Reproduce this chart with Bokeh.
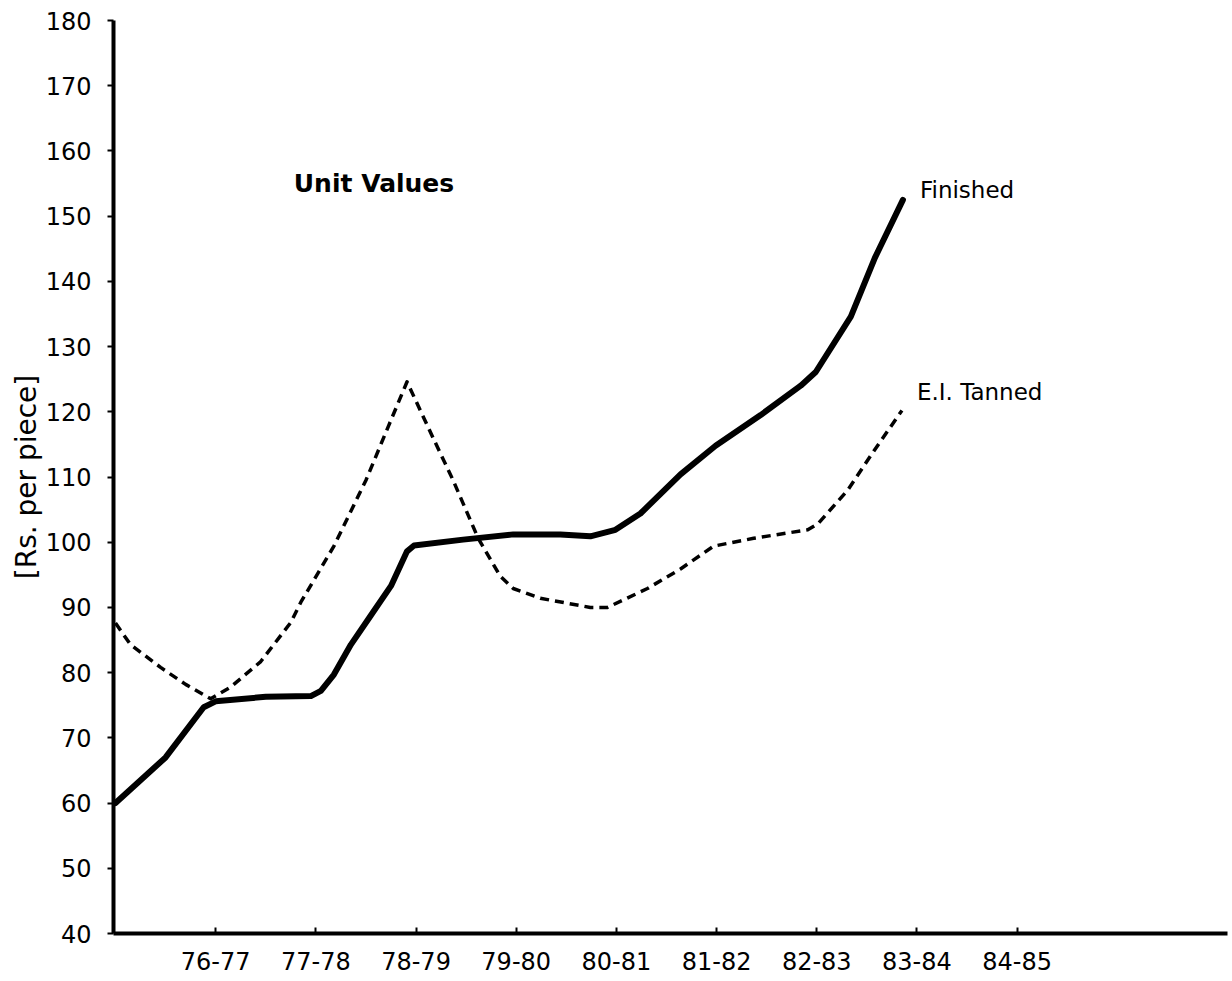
from bokeh.plotting import figure
from bokeh.models import Range1d, FixedTicker, Label
from bokeh.embed import file_html
from bokeh.resources import INLINE

# Category labels along the x axis (position 0 is the unlabeled origin, 75-76)
categories = ["76-77", "77-78", "78-79", "79-80", "80-81", "81-82", "82-83", "83-84", "84-85"]
category_pos = [1, 2, 3, 4, 5, 6, 7, 8, 9]

# Finished leather unit values (Rs. per piece)
finished_x = [0, 0.5, 0.88, 1.0, 1.5, 1.95, 2.05, 2.18, 2.35, 2.55, 2.75, 2.91, 2.98,
              3.47, 3.97, 4.44, 4.74, 4.99, 5.24, 5.64, 5.99, 6.44, 6.84, 6.99,
              7.34, 7.58, 7.86]
finished_y = [60, 67, 74.7, 75.6, 76.3, 76.4, 77.2, 79.7, 84.3, 88.8, 93.3, 98.6, 99.5,
              100.4, 101.2, 101.2, 100.9, 101.9, 104.4, 110.4, 114.8, 119.5, 124.0, 126.1,
              134.6, 143.6, 152.5]

# E.I. Tanned unit values (Rs. per piece)
tanned_x = [0, 0.15, 0.45, 0.70, 0.95, 1.15, 1.45, 1.75, 1.85, 2.18, 2.50, 2.73, 2.91,
            3.17, 3.37, 3.62, 3.84, 3.97, 4.24, 4.74, 4.91, 5.31, 5.64, 5.97, 6.37,
            6.91, 7.01, 7.31, 7.57, 7.85]
tanned_y = [87.6, 84.3, 80.8, 78.2, 76.0, 77.8, 81.7, 87.7, 90.8, 99.4, 109.5, 118.0, 124.6,
            116.0, 109.5, 100.6, 94.8, 92.9, 91.4, 90.0, 90.0, 92.9, 95.9, 99.4, 100.6,
            101.9, 102.8, 108.0, 114.0, 120.2]

y_ticks = list(range(40, 190, 10))

FONT = "DejaVu Sans"

p = figure(width=1232, height=981, output_backend="svg", toolbar_location=None,
           x_range=Range1d(-0.02, 11.10), y_range=Range1d(40, 180),
           min_border_left=113, min_border_right=5, min_border_top=20, min_border_bottom=48)

p.grid.visible = False
p.outline_line_color = None
p.background_fill_color = "white"
p.border_fill_color = "white"

# axes
for ax in (p.xaxis, p.yaxis):
    ax.axis_line_width = 4
    ax.axis_line_color = "black"
    ax.major_tick_line_width = 2
    ax.major_tick_line_color = "black"
    ax.minor_tick_line_color = None
    ax.major_label_text_font = FONT
    ax.major_label_text_font_size = "24px"
    ax.major_label_text_color = "black"

p.xaxis.ticker = FixedTicker(ticks=category_pos)
p.xaxis.major_label_overrides = {pos: lab for pos, lab in zip(category_pos, categories)}
p.xaxis.major_tick_in = 6
p.xaxis.major_tick_out = 0
p.xaxis.major_label_standoff = 18

p.yaxis.ticker = FixedTicker(ticks=y_ticks)
p.yaxis.major_tick_out = 6
p.yaxis.major_tick_in = 0
p.yaxis.major_label_standoff = 16
p.yaxis.axis_label = "[Rs. per piece]"
p.yaxis.axis_label_text_font = FONT
p.yaxis.axis_label_text_font_style = "normal"
p.yaxis.axis_label_text_font_size = "28px"
p.yaxis.axis_label_text_color = "black"
p.yaxis.axis_label_standoff = 0

# series
p.line(finished_x, finished_y, line_color="black", line_width=6, line_join="round", line_cap="round")
p.line(tanned_x, tanned_y, line_color="black", line_width=3.5, line_dash="9 6", line_join="round")

# texts
p.add_layout(Label(x=1.78, y=155, text="Unit Values", text_font=FONT, text_font_style="bold",
                   text_font_size="25px", text_baseline="middle", text_align="left", text_color="black"))
p.add_layout(Label(x=8.03, y=154, text="Finished", text_font=FONT,
                   text_font_size="23px", text_baseline="middle", text_align="left", text_color="black"))
p.add_layout(Label(x=8.0, y=123.1, text="E.I. Tanned", text_font=FONT,
                   text_font_size="23px", text_baseline="middle", text_align="left", text_color="black"))

open("out.html", "w").write(file_html(p, INLINE))
